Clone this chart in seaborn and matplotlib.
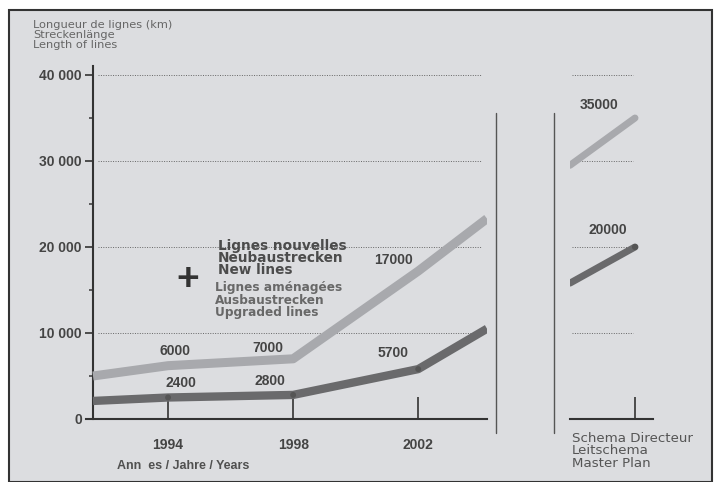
import matplotlib
matplotlib.use('Agg')
import matplotlib.pyplot as plt
from matplotlib.lines import Line2D
from matplotlib.patches import Rectangle
import seaborn as sns
import pandas as pd

#%% DATOS
annees = [1991.6, 1994, 1998, 2002, 2004.2]
nouvelles = [5000, 6200, 7000, 17200, 23300]
amenagees = [2100, 2500, 2800, 5800, 10500]

lbl_annees = [1994, 1998, 2002]
lbl_nouvelles = [6000, 7000, 17000]
lbl_amenagees = [2400, 2800, 5700]

plan_x = [0, 1]
plan_nouvelles = [29500, 35000]
plan_amenagees = [15800, 20000]

yticks = [0, 10000, 20000, 30000, 40000]
yticklabels = ['0', '10 000', '20 000', '30 000', '40 000']

#%% ESTILO
sns.set_style('white')
plt.rcParams['font.family'] = ['Liberation Sans', 'DejaVu Sans']

fondo = '#dcdde0'
claro = '#a8a9ad'
oscuro = '#6a6a6c'
texto = '#444444'

W, H = 717, 482
fig = plt.figure(figsize=(W / 100, H / 100), dpi=100)
fig.patch.set_facecolor('white')
fig.add_artist(Rectangle((9 / W, 0), (712 - 9) / W, (H - 10) / H, transform=fig.transFigure,
                         facecolor=fondo, edgecolor='#333333', lw=1.5, zorder=0))

def px(x0, y0, x1, y1):
    return [x0 / W, 1 - y1 / H, (x1 - x0) / W, (y1 - y0) / H]

#%% PANEL PRINCIPAL
ymax = 41000
ax = fig.add_axes(px(86, 419 - 344 * ymax / 40000, 487, 419))
ax.patch.set_alpha(0)
df = pd.DataFrame({'annee': annees, 'nouvelles': nouvelles, 'amenagees': amenagees})

for y in yticks[1:]:
    ax.hlines(y, 1991.75, 2004.0, colors='#666666', linestyles=(0, (1, 1.5)), lw=0.7, zorder=1)

sns.lineplot(data=df, x='annee', y='nouvelles', color=claro, lw=6.5, ax=ax,
             solid_capstyle='butt', zorder=3)
sns.lineplot(data=df, x='annee', y='amenagees', color=oscuro, lw=6, ax=ax,
             solid_capstyle='butt', zorder=3)
sns.scatterplot(x=lbl_annees, y=[amenagees[1], amenagees[2], amenagees[3]], color='#555555',
                s=18, ax=ax, zorder=4, edgecolor='none')

ax.set_xlim(1991.376, annees[-1])
ax.set_ylim(0, ymax)
ax.spines['left'].set_position(('data', annees[0]))
ax.set_yticks(yticks)
ax.set_yticklabels(yticklabels, fontweight='bold', fontsize=10, color=texto)
ax.set_yticks([5000, 15000, 25000, 35000], minor=True)
ax.tick_params(axis='y', which='major', left=True, direction='out', length=6, width=1.2,
               color='#333333', pad=2)
ax.tick_params(axis='y', which='minor', left=True, direction='out', length=3, width=1.2,
               color='#444444')
ax.set_xticks(lbl_annees)
ax.set_xticklabels([str(a) for a in lbl_annees], fontweight='bold', fontsize=10, color=texto)
ax.tick_params(axis='x', bottom=True, direction='in', length=16, width=1.2, color='#333333', pad=14)
ax.set_xlabel('')
ax.set_ylabel('')
for s in ['top', 'right']:
    ax.spines[s].set_visible(False)
for s in ['left', 'bottom']:
    ax.spines[s].set_color('#333333')
    ax.spines[s].set_linewidth(1.5)

# etiquetas de valores (desplazamiento en puntos)
dx_nouvelles = [5, -18, -18]
dy_nouvelles = [7, 3, 4]
dx_amenagees = [9, -17, -18]
dy_amenagees = [6, 5, 7]
for a, v, ddx, ddy in zip(lbl_annees, lbl_nouvelles, dx_nouvelles, dy_nouvelles):
    ax.annotate(str(v), (a, v), xytext=(ddx, ddy), textcoords='offset points', ha='center',
                va='bottom', fontsize=10, fontweight='bold', color=texto)
for a, v, ddx, ddy in zip(lbl_annees, lbl_amenagees, dx_amenagees, dy_amenagees):
    ax.annotate(str(v), (a, v), xytext=(ddx, ddy), textcoords='offset points', ha='center',
                va='bottom', fontsize=10, fontweight='bold', color=texto)

# leyenda
fig.text(188 / W, 1 - 280 / H, '+', fontsize=28, fontweight='bold', color='#333333',
         ha='center', va='center')
fig.text(218 / W, 1 - 258 / H, 'Lignes nouvelles\nNeubaustrecken\nNew lines', fontsize=9.8,
         fontweight='bold', color='#4c4c4c', linespacing=0.86, va='center',
         family=['DejaVu Sans'])
fig.text(215 / W, 1 - 300 / H, 'Lignes aménagées\nAusbaustrecken\nUpgraded lines', fontsize=8.7,
         fontweight='bold', color='#686868', linespacing=0.95, va='center',
         family=['DejaVu Sans'])

fig.text(33 / W, 1 - 35 / H, 'Longueur de lignes (km)\nStreckenlänge\nLength of lines',
         fontsize=8.2, color='#666666', family=['DejaVu Sans'], linespacing=0.95, va='center')
fig.text(117 / W, 1 - 466 / H, 'Ann  es / Jahre / Years', fontsize=9, fontweight='bold',
         color='#505050', va='center')

#%% SEPARADORES
for xs in [496, 554]:
    fig.add_artist(Line2D([xs / W, xs / W], [1 - 113 / H, 1 - 433 / H], transform=fig.transFigure,
                          color='#555555', lw=1))

#%% PANEL SCHEMA DIRECTEUR
ax2 = fig.add_axes(px(570, 419 - 344 * ymax / 40000, 655, 419))
ax2.patch.set_alpha(0)
ax2.set_xlim(0, 85 / 65)
ax2.set_ylim(0, ymax)
for y in yticks[1:]:
    ax2.hlines(y, 0.03, 0.97, colors='#666666', linestyles=(0, (1, 1.5)), lw=0.7, zorder=1)
sns.lineplot(x=plan_x, y=plan_nouvelles, color=claro, lw=5, ax=ax2, solid_capstyle='round', zorder=3)
sns.lineplot(x=plan_x, y=plan_amenagees, color=oscuro, lw=5, ax=ax2, solid_capstyle='round', zorder=3)
sns.scatterplot(x=[1], y=[plan_amenagees[1]], color='#555555', s=20, ax=ax2, zorder=4, edgecolor='none')
ax2.annotate(str(plan_nouvelles[1]), (0.45, plan_nouvelles[1]), xytext=(0, 4), textcoords='offset points',
             ha='center', va='bottom', fontsize=10, fontweight='bold', color=texto)
ax2.annotate(str(plan_amenagees[1]), (0.58, plan_amenagees[1]), xytext=(0, 7), textcoords='offset points',
             ha='center', va='bottom', fontsize=10, fontweight='bold', color=texto)
ax2.set_xticks([1])
ax2.set_xticklabels([''])
ax2.tick_params(axis='x', bottom=True, direction='in', length=16, width=1.2, color='#333333')
ax2.set_yticks([])
for s in ['top', 'right', 'left']:
    ax2.spines[s].set_visible(False)
ax2.spines['bottom'].set_color('#333333')
ax2.spines['bottom'].set_linewidth(1.5)
ax2.spines['bottom'].set_bounds(0, 1.28)

fig.text(572 / W, 1 - 451 / H, 'Schema Directeur\nLeitschema\nMaster Plan', fontsize=9.6,
         color='#555555', family=['DejaVu Sans'], linespacing=0.95, va='center')

plt.savefig('out.png', dpi=100, facecolor=fig.get_facecolor())
